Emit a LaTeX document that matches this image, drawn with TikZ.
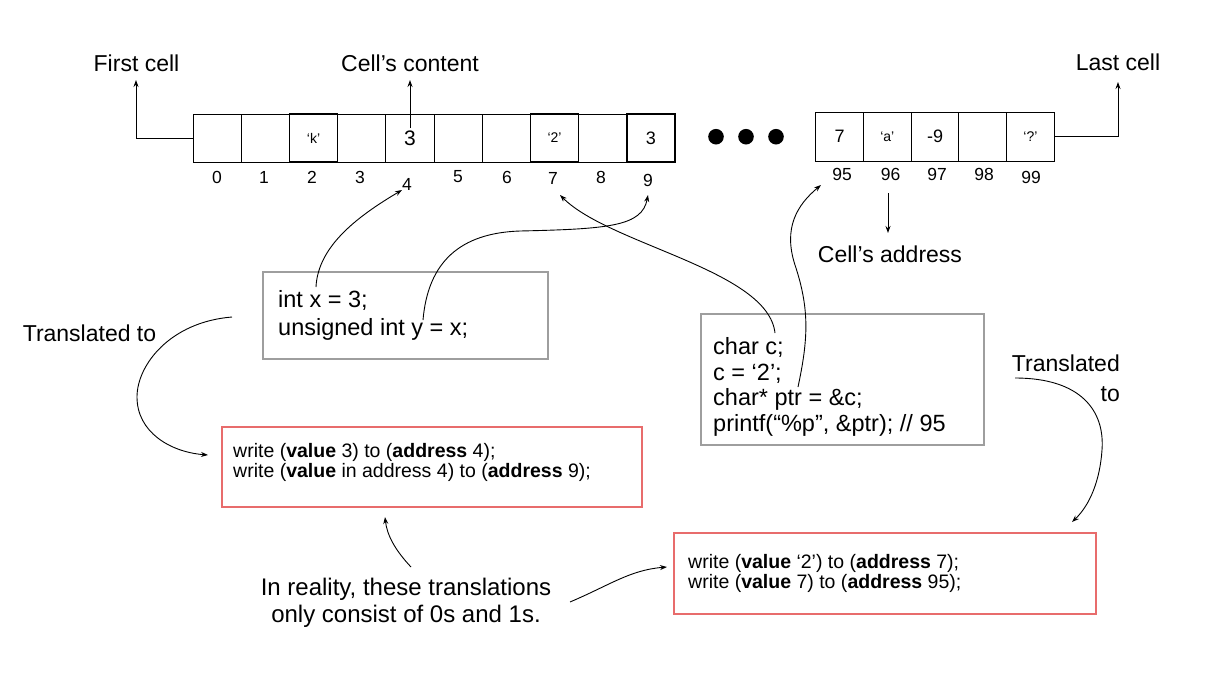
\documentclass[tikz,border=0pt]{standalone}
\usepackage{fontspec}
\setmainfont{Liberation Sans}
\usetikzlibrary{arrows.meta}
\definecolor{boxgray}{RGB}{158,158,158}
\definecolor{boxred}{RGB}{232,108,108}
\begin{document}
\begin{tikzpicture}[x=1pt,y=-1pt,
  cell/.style={draw, line width=0.9pt, minimum width=48.2pt, minimum height=48pt, inner sep=0pt},
  rcell/.style={cell, minimum width=47.7pt, minimum height=49pt},
  thickcell/.style={line width=1.4pt},
  small/.style={font=\fontsize{14}{14}\selectfont},
  mid/.style={font=\fontsize{18}{18}\selectfont},
  big/.style={font=\fontsize{21}{21}\selectfont},
  idx/.style={font=\fontsize{17.5}{17.5}\selectfont, inner sep=0pt},
  lbl/.style={font=\fontsize{23}{27}\selectfont, inner sep=0pt, align=center},
  conn/.style={line width=0.9pt, -{Stealth[length=7pt,width=5pt]}},
  graybox/.style={draw=boxgray, line width=1.2pt, inner sep=0pt},
  redbox/.style={draw=boxred, line width=1.2pt, inner sep=0pt},
  codeA/.style={font=\fontsize{23.5}{28}\selectfont, align=left, inner sep=0pt, anchor=west},
  codeB/.style={font=\fontsize{23.5}{25.5}\selectfont, align=left, inner sep=0pt, anchor=west},
  redtxt/.style={font=\fontsize{19.5}{20}\selectfont, align=left, inner sep=0pt, anchor=west},
  dot/.style={circle, fill=black, minimum size=15.6pt, inner sep=0pt}
]
\useasboundingbox (0,0) rectangle (1219,673);

% left memory row
\node[cell] (c0) at (217.1,138) {};
\node[cell] (c1) at (265.3,138) {};
\node[cell] (c3) at (361.7,138) {};
\node[cell, big] (c4) at (409.9,138) {3};
\node[cell] (c5) at (458.1,138) {};
\node[cell] (c6) at (506.3,138) {};
\node[cell] (c8) at (602.7,138) {};
\node[cell, thickcell, small] (c2) at (313.5,138) {‘k’};
\node[cell, thickcell, small] (c7) at (554.5,138) {‘2’};
\node[cell, thickcell, mid] (c9) at (650.9,138) {3};

\node[idx] (l0) at (217,177) {0};
\node[idx] (l1) at (264,177) {1};
\node[idx] (l2) at (312,177) {2};
\node[idx] (l3) at (360,177) {3};
\node[idx] (l4) at (407,184) {4};
\node[idx] (l5) at (458,177) {5};
\node[idx] (l6) at (507,177) {6};
\node[idx] (l7) at (553,178) {7};
\node[idx] (l8) at (601,177) {8};
\node[idx] (l9) at (648,180) {9};

% dots
\node[dot] (d1) at (716,136.7) {};
\node[dot] (d2) at (746,136.7) {};
\node[dot] (d3) at (776,136.7) {};

% right memory row
\node[rcell, mid] (r0) at (839.6,136.5) {7};
\node[rcell, small] (r1) at (887.3,136.5) {‘a’};
\node[rcell, mid] (r2) at (935,136.5) {-9};
\node[rcell] (r3) at (982.7,136.5) {};
\node[rcell, small] (r4) at (1030.4,136.5) {‘?’};

\node[idx] (m0) at (842,174) {95};
\node[idx] (m1) at (890.5,174) {96};
\node[idx] (m2) at (937,174) {97};
\node[idx] (m3) at (984,174) {98};
\node[idx] (m4) at (1031,177) {99};

% labels
\node[lbl] (first) at (136.5,63) {First cell};
\node[lbl] (content) at (410,63) {Cell’s content};
\node[lbl] (last) at (1118,62) {Last cell};
\node[lbl] (address) at (890,254) {Cell’s address};
\node[lbl] (transL) at (89.5,333) {Translated to};
\node[lbl, align=right, anchor=east, font=\fontsize{23}{30}\selectfont] (transR) at (1120,378) {Translated\\to};
\node[lbl, font=\fontsize{24}{27}\selectfont] (reality) at (406,603) {In reality, these translations\\only consist of 0s and 1s.};

% code boxes
\node[graybox, minimum width=285pt, minimum height=87pt] (boxA) at (405.5,315.5) {};
\node[codeA] (codeAtxt) at (278,315) {int x = 3;\\unsigned int y = x;};
\node[graybox, minimum width=283pt, minimum height=131pt] (boxB) at (842.5,379.5) {};
\node[codeB] (codeBtxt) at (713,387) {char c;\\c = ‘2’;\\char* ptr = \&c;\\printf(“\%p”, \&ptr); // 95};

% translation boxes
\node[redbox, minimum width=420pt, minimum height=80pt] (redA) at (432,467) {};
\node[redtxt] (redAtxt) at (233,462) {write (\textbf{value} 3) to (\textbf{address} 4);\\write (\textbf{value} in address 4) to (\textbf{address} 9);};
\node[redbox, minimum width=422pt, minimum height=81pt] (redB) at (885,573.5) {};
\node[redtxt] (redBtxt) at (688,573) {write (\textbf{value} ‘2’) to (\textbf{address} 7);\\write (\textbf{value} 7) to (\textbf{address} 95);};

% coordinates for connector ends
\coordinate (firstTip) at (136,80);
\coordinate (contentStart) at (410,128);
\coordinate (contentTip) at (410,80);
\coordinate (lastTip) at (1118,82);
\coordinate (addrStart) at (888,193);
\coordinate (addrTip) at (888,233);
\coordinate (xStart) at (316,287);
\coordinate (fourTip) at (402,190);
\coordinate (yStart) at (423,320);
\coordinate (nineTip) at (648,195);
\coordinate (cStart) at (775,333);
\coordinate (sevenTip) at (560,195);
\coordinate (ptrStart) at (798,387);
\coordinate (ninetyfiveTip) at (821,185);
\coordinate (tlStart) at (232,317);
\coordinate (tlTip) at (208,455);
\coordinate (trStart) at (1015,378);
\coordinate (trTip) at (1072,522);
\coordinate (reUpStart) at (411,567);
\coordinate (reUpTip) at (385,517);
\coordinate (reRightStart) at (570,602);
\coordinate (reRightTip) at (667,567);

% straight connectors
\draw[conn] (c0.west) -| (firstTip);
\draw[conn] (contentStart) -- (contentTip);
\draw[conn] (r4.east) -| (lastTip);
\draw[conn] (addrStart) -- (addrTip);

% curved connectors
\draw[conn] (xStart) .. controls (318,245) and (360,215) .. (fourTip);
\draw[conn] (yStart) .. controls (428,262) and (460,233) .. (520,231) .. controls (610,229) and (642,226) .. (nineTip);
\draw[conn] (cStart) .. controls (768,270) and (610,245) .. (sevenTip);
\draw[conn] (ptrStart) .. controls (808,340) and (810,310) .. (795,265) .. controls (783,228) and (797,205) .. (ninetyfiveTip);
\draw[conn] (tlStart) .. controls (170,322) and (137,365) .. (137,397) .. controls (137,432) and (170,452) .. (tlTip);
\draw[conn] (trStart) .. controls (1080,378) and (1105,410) .. (1102,450) .. controls (1100,480) and (1090,505) .. (trTip);
\draw[conn] (reUpStart) .. controls (395,550) and (387,535) .. (reUpTip);
\draw[conn] (reRightStart) .. controls (610,585) and (630,570) .. (reRightTip);
\end{tikzpicture}
\end{document}
